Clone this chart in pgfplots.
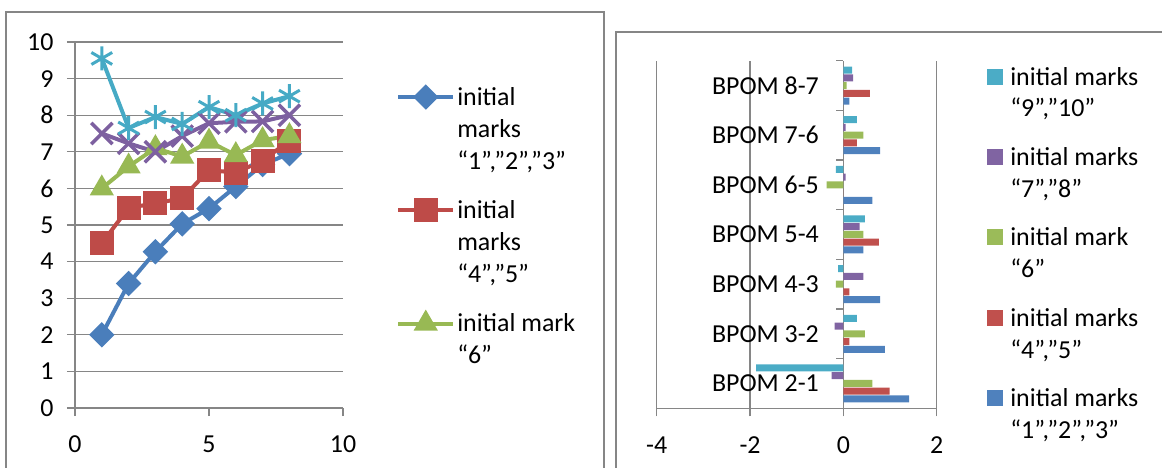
\documentclass[border=0pt]{standalone}
\usepackage{fontspec}
\setmainfont{Carlito}
\usepackage{pgfplots}
\pgfplotsset{compat=1.18}
\definecolor{cA}{HTML}{4A7EBB}
\definecolor{cB}{HTML}{BE4B48}
\definecolor{cC}{HTML}{98B954}
\definecolor{cD}{HTML}{7D60A0}
\definecolor{cE}{HTML}{46AAC5}
\definecolor{bA}{HTML}{4F81BD}
\definecolor{bB}{HTML}{C0504D}
\definecolor{bC}{HTML}{9BBB59}
\definecolor{bD}{HTML}{8064A2}
\definecolor{bE}{HTML}{4BACC6}
\definecolor{axgray}{HTML}{868686}
\newcommand\bigf{\fontsize{26}{32}\selectfont}
\pgfplotsset{
  sqlegend/.style={legend image code/.code={\fill[##1] (0bp,8bp) rectangle (16bp,24bp);}},
  linelegend/.style={legend image code/.code={\draw[mark repeat=2,mark phase=2,##1] plot coordinates {(0bp,#1) (27.5bp,#1) (55bp,#1)};}},
}
\begin{document}
\begin{tikzpicture}
\useasboundingbox (0,0) rectangle (1162bp,468bp);
\draw[axgray, line width=2bp] (6bp,-10bp) -- (6bp,456bp) -- (604bp,456bp) -- (604bp,-10bp);
\draw[axgray, line width=2bp] (616bp,-10bp) -- (616bp,436bp) -- (1175bp,436bp);
\begin{axis}[
  at={(75bp,60bp)}, anchor=south west, scale only axis, width=268bp, height=366bp,
  xmin=0, xmax=10, ymin=0, ymax=10, xtick={0,5,10}, ytick={0,1,...,10},
  axis x line*=bottom, axis y line*=left, tick align=outside, major tick length=8bp,
  axis line style={axgray, line width=1.2bp}, tick style={axgray, line width=1.2bp},
  ymajorgrids, grid style={axgray, line width=1.2bp},
  tick label style={font=\bigf}, /pgf/number format/assume math mode=true,
  yticklabel style={xshift=-10bp}, xticklabel style={yshift=-16bp},
  legend style={at={(1.198,0.882)}, anchor=north west, draw=none, fill=none, inner sep=0pt,
    font=\bigf, cells={anchor=west, align=left}, row sep=26bp, nodes={inner sep=2bp}},
]
\addplot[cA, line width=4bp, mark=square*, mark size=7bp, mark options={rotate=45}, linelegend=32bp]
  coordinates {(1,2.0) (2,3.4) (3,4.27) (4,5.03) (5,5.45) (6,6.05) (7,6.65) (8,6.95)};
\addlegendentry{initial\\marks\\“1”,”2”,”3”}
\addplot[cB, line width=4bp, mark=square*, mark size=10bp, linelegend=32bp]
  coordinates {(1,4.5) (2,5.47) (3,5.59) (4,5.73) (5,6.5) (6,6.43) (7,6.76) (8,7.3)};
\addlegendentry{initial\\marks\\“4”,”5”}
\addplot[cC, line width=4bp, mark=triangle*, mark size=10bp, linelegend=16bp]
  coordinates {(1,6.0) (2,6.6) (3,7.1) (4,6.87) (5,7.28) (6,6.91) (7,7.32) (8,7.43)};
\addlegendentry{initial mark\\“6”}
\addplot[cD, line width=4bp, mark=x, mark size=15bp, mark options={line width=3.5bp}, forget plot]
  coordinates {(1,7.5) (2,7.23) (3,7.0) (4,7.43) (5,7.78) (6,7.82) (7,7.83) (8,8.0)};
\addplot[cE, line width=4bp, mark=asterisk, mark size=12bp, mark options={line width=3bp}, forget plot]
  coordinates {(1,9.55) (2,7.65) (3,7.95) (4,7.76) (5,8.22) (6,8.0) (7,8.32) (8,8.52)};
\end{axis}
\begin{axis}[
  at={(656.7bp,59.7bp)}, anchor=south west, scale only axis, width=280bp, height=347.6bp,
  xmin=-4, xmax=2, ymin=-0.5, ymax=6.5, xtick={-4,-2,0,2},
  ytick={0,...,6},
  yticklabels={BPOM 2-1,BPOM 3-2,BPOM 4-3,BPOM 5-4,BPOM 6-5,BPOM 7-6,BPOM 8-7},
  minor ytick={-0.5,0.5,...,6.5},
  axis x line*=bottom, axis y line*=middle, hide obscured x ticks=false, hide obscured y ticks=false,
  tick align=outside, major tick length=8bp, minor tick length=7bp,
  major y tick style={draw=none},
  axis line style={axgray, line width=1.2bp}, tick style={axgray, line width=1.2bp},
  xmajorgrids, grid style={axgray, line width=1.2bp},
  tick label style={font=\bigf}, /pgf/number format/assume math mode=true,
  yticklabel style={xshift=-13bp}, xticklabel style={yshift=-17bp},
  reverse legend,
  legend style={at={(1.18,0.988)}, anchor=north west, draw=none, fill=none, inner sep=0pt,
    font=\bigf, cells={anchor=west, align=left}, row sep=25bp, column sep=5bp, nodes={inner sep=2bp}},
]
\addplot[xbar, bar width=7bp, bar shift=-15.5bp, fill=bA, draw=none, sqlegend]
  coordinates {(1.41,0) (0.89,1) (0.79,2) (0.43,3) (0.62,4) (0.79,5) (0.13,6)};
\addlegendentry{initial marks\\“1”,”2”,”3”}
\addplot[xbar, bar width=7bp, bar shift=-7.75bp, fill=bB, draw=none, sqlegend]
  coordinates {(0.99,0) (0.13,1) (0.13,2) (0.76,3) (0,4) (0.29,5) (0.57,6)};
\addlegendentry{initial marks\\“4”,”5”}
\addplot[xbar, bar width=7bp, bar shift=0bp, fill=bC, draw=none, sqlegend]
  coordinates {(0.62,0) (0.46,1) (-0.16,2) (0.43,3) (-0.36,4) (0.43,5) (0.07,6)};
\addlegendentry{initial mark\\“6”}
\addplot[xbar, bar width=7bp, bar shift=7.75bp, fill=bD, draw=none, sqlegend]
  coordinates {(-0.25,0) (-0.19,1) (0.43,2) (0.35,3) (0.05,4) (0.05,5) (0.21,6)};
\addlegendentry{initial marks\\“7”,”8”}
\addplot[xbar, bar width=7bp, bar shift=15.5bp, fill=bE, draw=none, sqlegend]
  coordinates {(-1.87,0) (0.29,1) (-0.11,2) (0.46,3) (-0.16,4) (0.29,5) (0.19,6)};
\addlegendentry{initial marks\\“9”,”10”}
\end{axis}
\end{tikzpicture}
\end{document}
